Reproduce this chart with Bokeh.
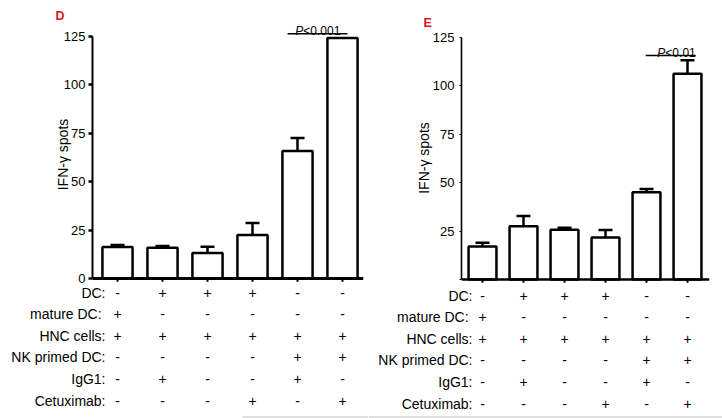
from bokeh.plotting import figure
from bokeh.models import (ColumnDataSource, Whisker, TeeHead, FixedTicker,
                          Range1d, Span, Label)
from bokeh.layouts import column, row
from bokeh.embed import file_html
from bokeh.resources import INLINE
from bokeh.core.properties import value

FONT = "Liberation Sans"

# ---------------- data ----------------
groups = [0, 1, 2, 3, 4, 5]
conditions = ["DC:", "mature  DC:", "HNC cells:", "NK primed DC:", "IgG1:", "Cetuximab:"]
dc_row = ["-", "+", "+", "+", "-", "-"]
mature_row = ["+", "-", "-", "-", "-", "-"]
hnc_row = ["+", "+", "+", "+", "+", "+"]
nk_row = ["-", "-", "-", "-", "+", "+"]
igg_row = ["-", "+", "-", "-", "+", "-"]
cetux_row = ["-", "-", "-", "+", "-", "+"]

d_mean = [16.2, 15.9, 13.1, 22.4, 65.7, 124.0]
d_upper = [17.3, 16.8, 16.4, 28.6, 72.4, 124.0]
e_mean = [17.0, 27.5, 25.7, 21.7, 45.0, 106.0]
e_upper = [19.0, 32.7, 26.7, 25.5, 46.7, 113.0]

y_ticks = [0, 25, 50, 75, 100, 125]
d_pvalue = "<0.001"
e_pvalue = "<0.01"

rows = [dc_row, mature_row, hnc_row, nk_row, igg_row, cetux_row]

PX = 1.94          # pixels per IFN-gamma unit
SPLIT = 286        # page y where the condition table starts
PAGE_H = 418


def base_fig(**kw):
    p = figure(output_backend="svg", toolbar_location=None, frame_align=False,
               **kw)
    p.outline_line_color = None
    p.grid.visible = False
    return p


def strip(letter, *, width, height, letter_x, letter_mid):
    p = base_fig(width=width, height=height, x_range=Range1d(0, width),
                 y_range=Range1d(-height, 0), x_axis_location=None,
                 y_axis_location=None, min_border=0)
    p.text(x=[letter_x], y=[-letter_mid], text=[letter], text_align="left",
           text_baseline="middle", text_font=value(FONT),
           text_font_size=value("12.5px"), text_font_style="bold",
           text_color="#e3121b")
    return p


def chart(means, uppers, pvalue, *, width, left, right, top, zero_px,
          px_per_group, first_px, heavy, show_zero, bar_w, label_standoff,
          tick_standoff, bracket, ptext):
    height = SPLIT - top
    frame_w = width - left - right
    x_start = -(first_px - left) / px_per_group
    x_end = x_start + frame_w / px_per_group
    y_end = (zero_px - top) / PX
    y_start = -(SPLIT - zero_px) / PX
    p = base_fig(width=width, height=height, x_range=Range1d(x_start, x_end),
                 y_range=Range1d(y_start, y_end), title=None,
                 x_axis_location=None, min_border_left=left,
                 min_border_right=right, min_border_top=0, min_border_bottom=0)

    src = ColumnDataSource(dict(x=groups, top=means, upper=uppers))
    p.vbar(x="x", top="top", bottom=0, width=bar_w, source=src,
           fill_color="white", line_color="black", line_width=2.5)

    keep = [i for i in range(len(groups)) if uppers[i] > means[i]]
    wsrc = ColumnDataSource(dict(x=[groups[i] for i in keep],
                                 lower=[means[i] for i in keep],
                                 upper=[uppers[i] for i in keep]))
    p.add_layout(Whisker(source=wsrc, base="x", lower="lower", upper="upper",
                         dimension="height", line_color="black", line_width=2.5,
                         lower_head=None,
                         upper_head=TeeHead(size=14, line_width=2.5,
                                            line_color="black")))

    # x axis line at zero with category ticks
    p.add_layout(Span(location=0, dimension="width", line_color="black",
                      line_width=3 if heavy else 2.5))
    p.segment(x0=groups, y0=[0] * len(groups), x1=groups,
              y1=[-3.2 / PX] * len(groups), line_color="black", line_width=2)

    # y axis
    ya = p.yaxis[0]
    ya.ticker = FixedTicker(ticks=y_ticks)
    ya.bounds = (0, 125)
    ya.axis_line_color = "black"
    ya.axis_line_width = 2 if heavy else 1.6
    ya.major_tick_line_width = 2.5 if heavy else 1.2
    ya.major_tick_out = 4 if heavy else 2
    ya.major_tick_in = 0
    ya.minor_tick_line_color = None
    ya.major_label_text_font = FONT
    ya.major_label_text_font_size = "13px"
    ya.major_label_text_color = "black"
    ya.major_label_standoff = tick_standoff
    if not show_zero:
        ya.major_label_overrides = {0: ""}
    ya.axis_label = "IFN-\u03b3 spots"
    ya.axis_label_text_font = FONT
    ya.axis_label_text_font_size = "14px"
    ya.axis_label_text_font_style = "normal"
    ya.axis_label_text_color = "black"
    ya.axis_label_standoff = label_standoff

    # significance bracket
    bx0, bx1, by = bracket
    p.line(x=[bx0, bx1], y=[by, by], line_color="black", line_width=1.5)
    tx, ty = ptext
    p.add_layout(Label(x=tx, y=ty, text="P", text_font=FONT,
                       text_font_size="12px", text_font_style="italic",
                       text_color="black", text_align="right",
                       text_baseline="alphabetic"))
    p.add_layout(Label(x=tx, y=ty, text=pvalue, text_font=FONT,
                       text_font_size="12px", text_color="black",
                       text_align="left", text_baseline="alphabetic"))
    return p


def table(*, width, px_per_group, first_px, row_first, row_gap, label_dx,
          gray_from_px):
    height = PAGE_H - SPLIT
    x_start = -first_px / px_per_group
    x_end = x_start + width / px_per_group
    p = base_fig(width=width, height=height, x_range=Range1d(x_start, x_end),
                 y_range=Range1d(-height, 0), x_axis_location=None,
                 y_axis_location=None, min_border=0)

    xs, ys, ts = [], [], []
    for r, vals in enumerate(rows):
        for g, s in zip(groups, vals):
            xs.append(g)
            ys.append(-(row_first + r * row_gap))
            ts.append(s)
    p.text(x=xs, y=ys, text=ts, text_align="center", text_baseline="middle",
           text_font=value(FONT), text_font_size=value("14px"),
           text_color="black")
    p.text(x=[groups[0]] * len(conditions),
           y=[-(row_first + r * row_gap) for r in range(len(conditions))],
           text=conditions, x_offset=label_dx, text_align="right",
           text_baseline="middle", text_font=value(FONT),
           text_font_size=value("14px"), text_color="black")
    # faint rule at the foot of the figure
    gx0 = x_start + gray_from_px / px_per_group
    p.line(x=[gx0, x_end], y=[-(height - 1.5)] * 2, line_color="#d4d4d4",
           line_width=1.5)
    return p


D_TOP, E_TOP = 22, 29

sD = strip("D", width=368, height=D_TOP, letter_x=55, letter_mid=15)
sE = strip("E", width=354, height=E_TOP, letter_x=55, letter_mid=22)

pD = chart(d_mean, d_upper, d_pvalue, width=368, left=92, right=5,
           top=D_TOP, zero_px=278, px_per_group=45, first_px=117, heavy=True,
           show_zero=True, bar_w=0.67, label_standoff=-10, tick_standoff=3,
           bracket=(groups[4] - 0.22, groups[5] + 0.11, d_mean[5] + 2.1),
           ptext=(groups[4] + 0.13, d_mean[5] + 3.5))

pE = chart(e_mean, e_upper, e_pvalue, width=354, left=93, right=13,
           top=E_TOP, zero_px=279, px_per_group=41, first_px=482 - 368,
           heavy=False, show_zero=False, bar_w=0.68, label_standoff=-2,
           tick_standoff=5,
           bracket=(groups[4] - 0.02, groups[5] + 0.2, e_upper[5] + 2.5),
           ptext=(groups[4] + 0.46, e_upper[5] + 4.0))

tD = table(width=368, px_per_group=45, first_px=117, row_first=6,
           row_gap=21.6, label_dx=-12, gray_from_px=242)
tE = table(width=354, px_per_group=41, first_px=482 - 368, row_first=9,
           row_gap=21.6, label_dx=-10, gray_from_px=0)

layout = row(column(sD, pD, tD), column(sE, pE, tE))
open("out.html", "w").write(file_html(layout, INLINE))
